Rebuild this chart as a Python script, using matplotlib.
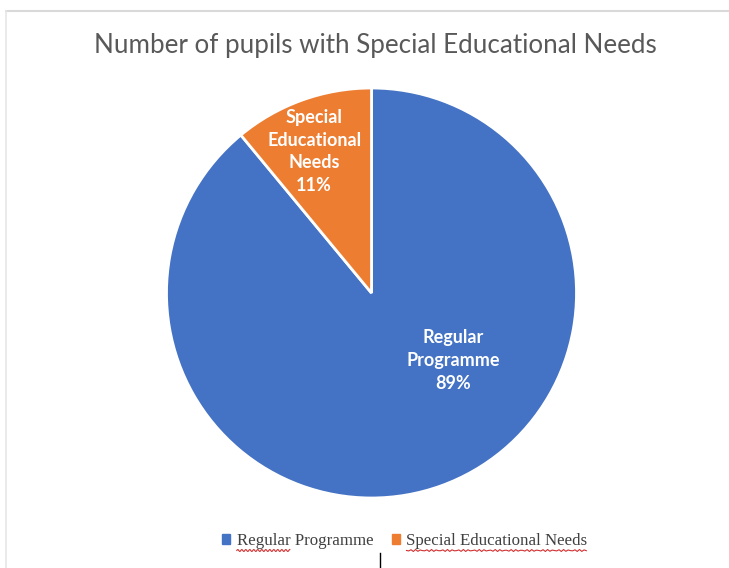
import matplotlib
matplotlib.use("Agg")
import matplotlib.pyplot as plt
from matplotlib.lines import Line2D
from matplotlib.patches import Rectangle
from matplotlib.textpath import TextPath
from matplotlib.font_manager import FontProperties
import numpy as np

categories = ["Regular Programme", "Special Educational Needs"]
values = [89, 11]
colors = ["#4472C4", "#ED7D31"]
slice_labels = ["Regular\nProgramme", "Special\nEducational\nNeeds"]
title = "Number of pupils with Special Educational Needs"
misspelled = ["Regular", "Special Educational Needs"]

W, H = 729, 568
fig = plt.figure(figsize=(W / 100, H / 100), dpi=100)
fig.patch.set_facecolor("white")

# chart border (top and left edges visible)
fig.add_artist(Line2D([6 / W, 1], [1 - 11 / H, 1 - 11 / H], color="#d9d9d9", lw=1.5))
fig.add_artist(Line2D([6 / W, 6 / W], [1 - 11 / H, 0], color="#e6e6e6", lw=1.2))

cx, cy, r = 371.5, 293, 205
ax = fig.add_axes([(cx - r) / W, (H - cy - r) / H, 2 * r / W, 2 * r / H])
wedges, _ = ax.pie(values, colors=colors, startangle=90, counterclock=False,
                   wedgeprops=dict(edgecolor="white", linewidth=2), radius=1)
ax.set_xlim(-1, 1)
ax.set_ylim(-1, 1)
ax.set_aspect("equal")
ax.axis("off")

label_pos = [(0.40, -0.33), (-0.28, 0.69)]
for lab, v, (x, y) in zip(slice_labels, values, label_pos):
    ax.text(x, y, f"{lab}\n{v}%", ha="center", va="center", color="white",
            fontsize=13, fontweight="bold", family="Lato", linespacing=1.42)

fig.text(375 / W, 1 - 45 / H, title, ha="center", va="center", fontsize=18.7,
         color="#595959", family="Lato")

# legend
legend_font = dict(family="Liberation Serif", size=12.2)
leg = fig.legend(handles=[Rectangle((0, 0), 1, 1, color=c) for c in colors],
                 labels=categories, loc="center", bbox_to_anchor=(405 / W, 1 - 541 / H),
                 ncol=2, frameon=False, handlelength=0.45, handleheight=0.45,
                 handletextpad=0.4, columnspacing=1.1, prop=legend_font)
for t in leg.get_texts():
    t.set_color("#404040")

# red spell-check squiggles under legend words
fig.canvas.draw()
renderer = fig.canvas.get_renderer()
fp = FontProperties(**legend_font)
for t, word in zip(leg.get_texts(), misspelled):
    bb = t.get_window_extent(renderer)
    wpx = TextPath((0, 0), word, prop=fp).get_extents().width * 100 / 72
    xs = np.linspace(bb.x0, bb.x0 + wpx, 80)
    ys = bb.y0 - 1.5 + 1.0 * np.sin((xs - bb.x0) / 2.0 * np.pi)
    fig.add_artist(Line2D(xs / W, ys / H, color="#d03030", lw=0.8))

# cursor mark
fig.add_artist(Line2D([380 / W, 380 / W], [0, 15 / H], color="black", lw=1))

fig.savefig("out.png", dpi=100, facecolor="white")
